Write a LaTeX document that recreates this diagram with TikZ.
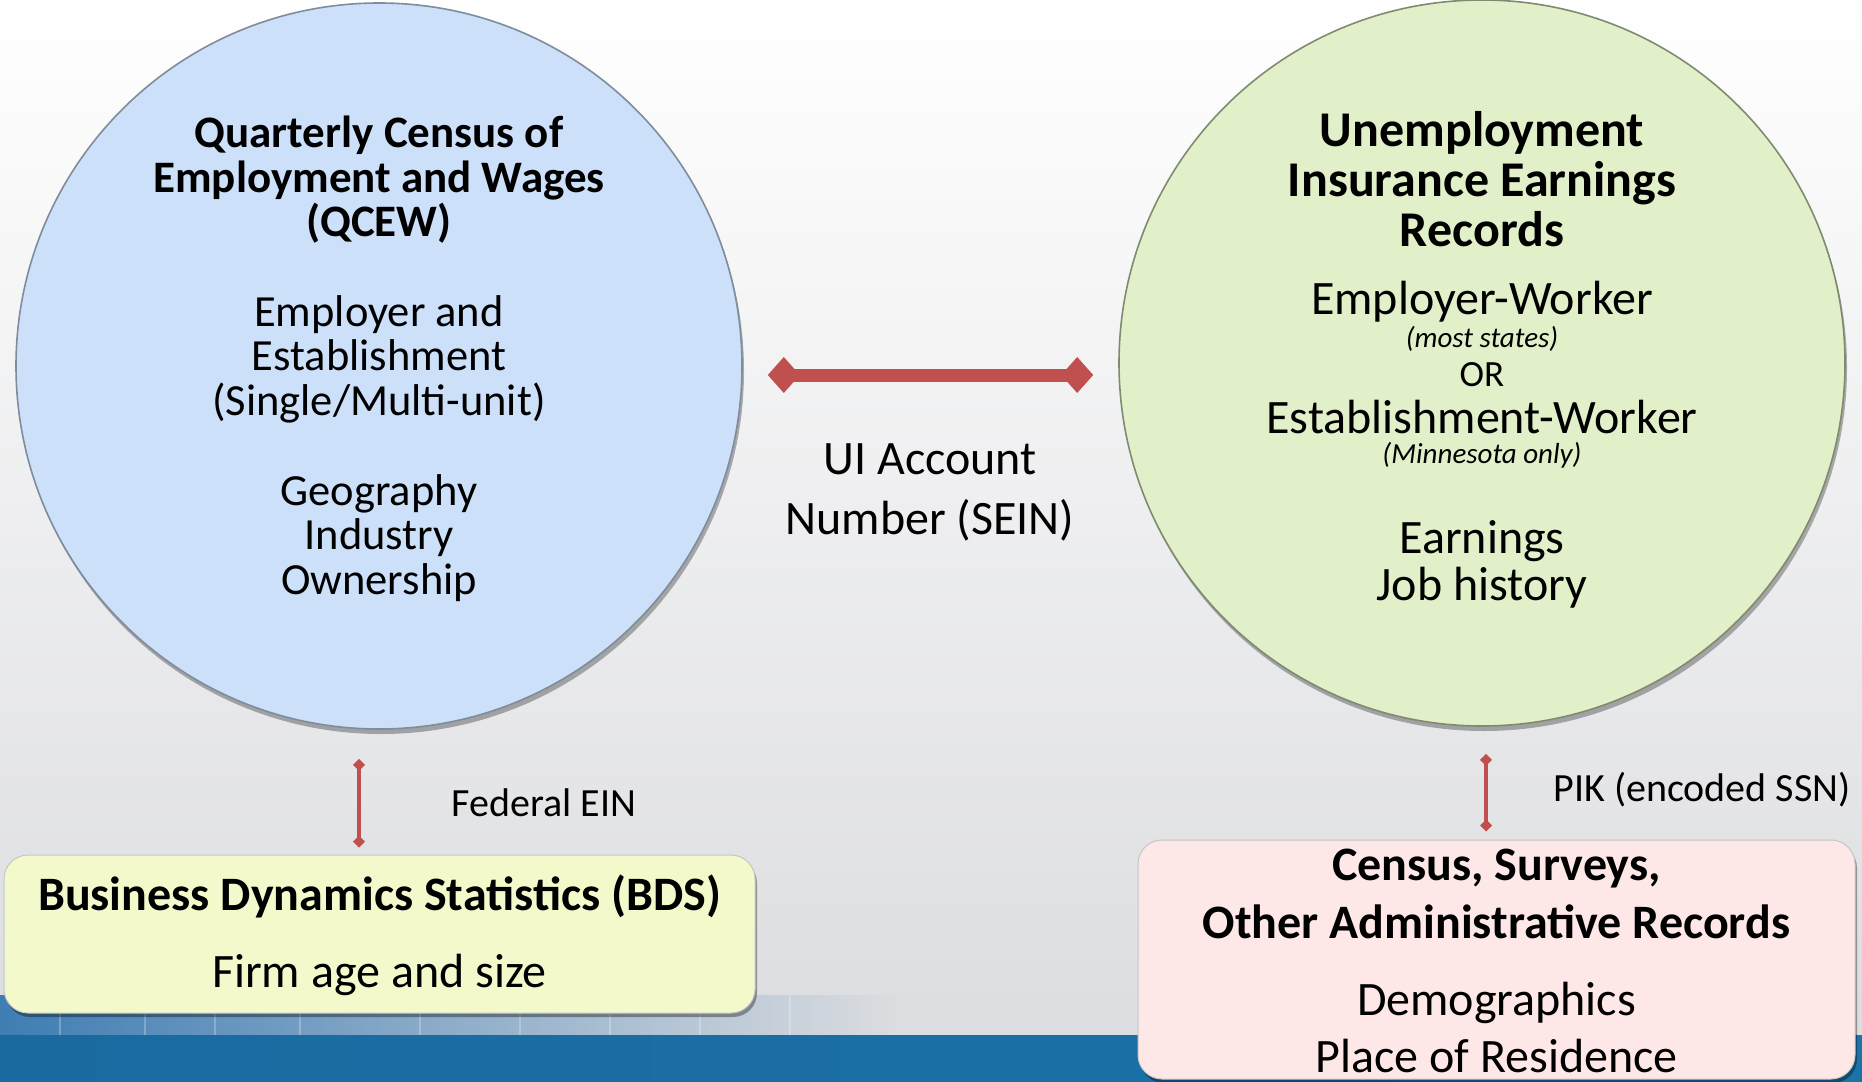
\documentclass[tikz,border=0pt]{standalone}
\usepackage{fontspec}
\setmainfont{Carlito}
\usetikzlibrary{arrows.meta,shadows,calc}
\definecolor{arrowred}{HTML}{C0504D}
\definecolor{qblue}{HTML}{CCE0FA}
\definecolor{qedge}{HTML}{7E8C9C}
\definecolor{ugreen}{HTML}{E2F0C9}
\definecolor{uedge}{HTML}{808A70}
\definecolor{bdsfill}{HTML}{F3F9CB}
\definecolor{censfill}{HTML}{FDE8E7}
\definecolor{bgbot}{HTML}{DCDDE0}
\definecolor{bandL}{HTML}{1A6AA0}
\definecolor{bandM}{HTML}{1F8CBD}
\definecolor{bandR}{HTML}{1A74A8}
\definecolor{photo}{HTML}{3F7DB3}
\definecolor{photoM}{HTML}{5F93C0}
\begin{document}
\begin{tikzpicture}[x=1pt,y=-1pt,
  disk/.style={circle, minimum size=726pt, inner sep=0pt, line width=1.6pt,
    drop shadow={shadow xshift=2pt, shadow yshift=-5pt, opacity=0.3, fill=black}},
  infobox/.style={rounded corners=24pt, inner sep=0pt, line width=1pt, draw=gray!45,
    drop shadow={shadow xshift=2pt, shadow yshift=-4pt, opacity=0.35, fill=black}},
  bigarrow/.style={draw=arrowred, line width=13pt,
    {Diamond[length=32pt,width=36pt]}-{Diamond[length=32pt,width=36pt]}},
  smallarrow/.style={draw=arrowred, line width=3.5pt,
    {Diamond[length=12pt,width=12pt]}-{Diamond[length=12pt,width=12pt]}},
  txt/.style={inner sep=0pt, align=center, text=black}
]
\useasboundingbox (0,0) rectangle (1862,1081);
% background
\shade[top color=white, bottom color=bgbot] (0,0) rectangle (1862,1036);
\shade[left color=photo, middle color=photoM, right color=bgbot] (0,995) rectangle (900,1036);
\foreach \lx in {60,145,215,300,420,520,610,700,790}
  \draw[white, opacity=0.25, line width=1.2pt] (\lx,995) -- (\lx,1036);
\shade[left color=bandL, middle color=bandM, right color=bandR] (0,1035) rectangle (1862,1081);

% circles
\node[disk, fill=qblue, draw=qedge] (qcew) at (379,366) {};
\node[disk, fill=ugreen, draw=uedge] (ui) at (1482,363) {};

% left circle text
\node[txt, font=\fontsize{45}{44.5}\selectfont\bfseries] (qtitle) at (379,180)
  {Quarterly Census of\\Employment and Wages\\(QCEW)};
\node[txt, font=\fontsize{44.5}{44.5}\selectfont] (qbody1) at (379,359)
  {Employer and\\Establishment\\(Single/Multi-unit)};
\node[txt, font=\fontsize{44.5}{44.5}\selectfont] (qbody2) at (379,538)
  {Geography\\Industry\\Ownership};

% right circle text
\node[txt, font=\fontsize{50}{50}\selectfont\bfseries] (utitle) at (1482,179)
  {Unemployment\\Insurance Earnings\\Records};
\node[txt, font=\fontsize{48}{48}\selectfont] (ew) at (1482,302) {Employer-Worker};
\node[txt, font=\fontsize{29}{29}\selectfont\itshape] (most) at (1482,339) {(most states)};
\node[txt, font=\fontsize{37}{37}\selectfont, text depth=0pt] (or) at (1482,374) {OR};
\node[txt, font=\fontsize{48}{48}\selectfont] (estw) at (1482,417) {Establishment-Worker};
\node[txt, font=\fontsize{29}{29}\selectfont\itshape] (minn) at (1482,455) {(Minnesota only)};
\node[txt, font=\fontsize{48}{47}\selectfont] (earn) at (1482,564) {Earnings\\Job history};

% middle link
\draw[bigarrow] ([shift={(25,9)}]qcew.east) -- ([shift={(-25,12)}]ui.west);
\node[txt, font=\fontsize{48}{60}\selectfont] (sein) at (930,492) {UI Account\\Number (SEIN)};

% bottom boxes
\node[infobox, fill=bdsfill, minimum width=751pt, minimum height=158pt] (bds) at (379.5,934) {};
\node[txt, font=\fontsize{48}{48}\selectfont\bfseries] (bdstitle) at (379.5,896) {Business Dynamics Statistics (BDS)};
\node[txt, font=\fontsize{48}{48}\selectfont] (bdsbody) at (379.5,975) {Firm age and size};

\node[infobox, fill=censfill, minimum width=717pt, minimum height=239pt] (census) at (1496.5,959.5) {};
\node[txt, font=\fontsize{48}{58}\selectfont\bfseries] (cenTitle) at (1496.5,894) {Census, Surveys,\\Other Administrative Records};
\node[txt, font=\fontsize{48}{57}\selectfont] (cenBody) at (1496.5,1027) {Demographics\\Place of Residence};

% vertical links
\draw[smallarrow] ([shift={(-20,29)}]qcew.south) -- ([shift={(-20.5,-7)}]bds.north);
\node[txt, font=\fontsize{40}{40}\selectfont] (fein) at (544,803) {Federal EIN};
\draw[smallarrow] ([shift={(4,27)}]ui.south) -- ([shift={(-10.5,-8)}]census.north);
\node[txt, font=\fontsize{40}{40}\selectfont] (pik) at (1702,790) {PIK (encoded SSN)};
\end{tikzpicture}
\end{document}
